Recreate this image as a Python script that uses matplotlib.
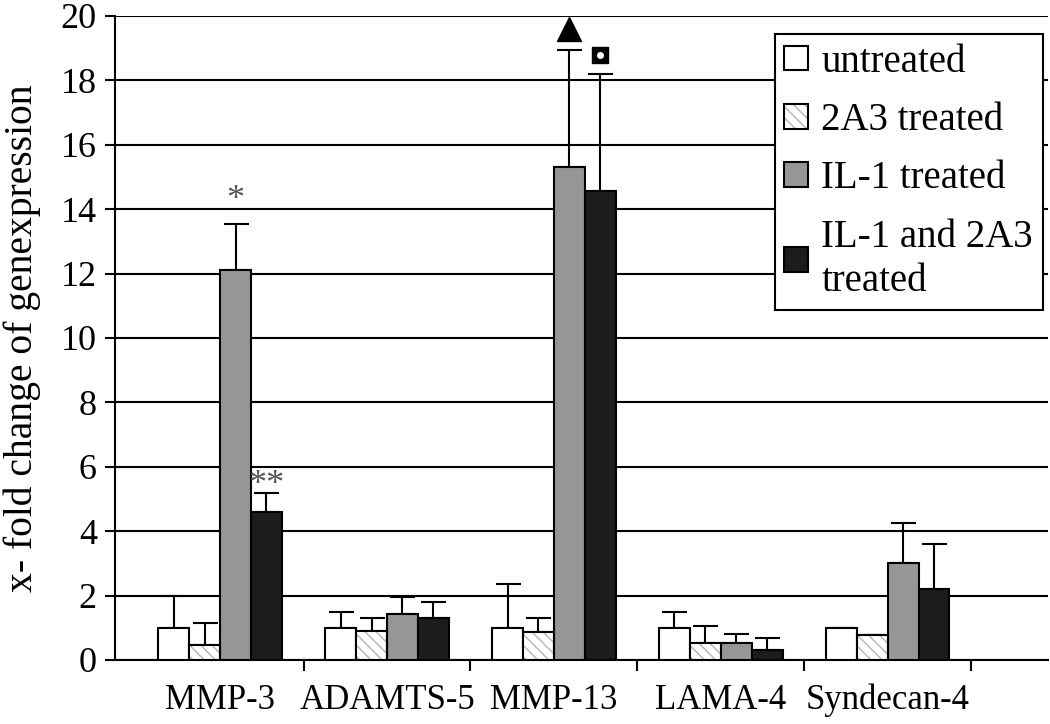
import matplotlib
matplotlib.use('Agg')
import matplotlib.pyplot as plt
import numpy as np
from matplotlib.legend_handler import HandlerTuple

# Data
genes = ['MMP-3', 'ADAMTS-5', 'MMP-13', 'LAMA-4', 'Syndecan-4']
groups = ['untreated', '2A3 treated', 'IL-1 treated', 'IL-1 and 2A3\ntreated']

untreated = [1.0, 1.0, 1.0, 1.0, 1.0]
untreated_top = [2.0, 1.5, 2.36, 1.5, 1.0]
treated_2a3 = [0.47, 0.9, 0.87, 0.53, 0.78]
treated_2a3_top = [1.15, 1.3, 1.3, 1.05, 0.78]
il1 = [12.1, 1.43, 15.3, 0.53, 3.0]
il1_top = [13.55, 1.96, 18.95, 0.8, 4.25]
il1_2a3 = [4.6, 1.3, 14.55, 0.3, 2.2]
il1_2a3_top = [5.2, 1.8, 18.2, 0.68, 3.6]

plt.rcParams['font.family'] = ['Liberation Serif', 'DejaVu Serif']
plt.rcParams['hatch.linewidth'] = 1.0

fig = plt.figure(figsize=(10.5, 7.24), dpi=100)
ax = fig.add_axes([0.1095, 0.0884, 0.8885, 0.8896])

x = np.arange(len(genes))
w = 0.185
series = [
    (untreated, untreated_top, 'white', None),
    (treated_2a3, treated_2a3_top, 'white', '\\\\\\'),
    (il1, il1_top, '#969696', None),
    (il1_2a3, il1_2a3_top, '#1c1c1c', None),
]

handles = []
for i, (vals, tops, fc, hatch) in enumerate(series):
    pos = x + (i - 1.5) * w
    vals = np.array(vals)
    err = np.array(tops) - vals
    # error bars only upward
    ax.errorbar(pos, vals, yerr=[np.zeros_like(err), err], fmt='none',
                ecolor='black', elinewidth=1.5, capsize=9, capthick=1.5, zorder=2)
    if hatch:
        # hatch in light grey, outline in black on top
        hb = ax.bar(pos, vals, w, color=fc, edgecolor='#b5b5b5', hatch=hatch,
                    linewidth=0, zorder=3)
        eb = ax.bar(pos, vals, w, color='none', edgecolor='black', linewidth=1.5, zorder=4)
        handles.append((hb, eb))
    else:
        b = ax.bar(pos, vals, w, color=fc, edgecolor='black', linewidth=1.5, zorder=3)
        handles.append(b)

# significance markers
ax.text(0 + 0.5 * w, 13.75, '*', ha='center', va='bottom', fontsize=26, color='#555555')
ax.text(0 + 1.5 * w, 4.9, '**', ha='center', va='bottom', fontsize=26, color='#555555')
ax.plot([2 + 0.5 * w], [19.6], marker='^', markersize=17, color='black', clip_on=False, zorder=5)
ax.plot([2 + 1.5 * w], [18.8], marker='s', markersize=12, color='black', zorder=5)
ax.plot([2 + 1.5 * w], [18.8], marker='o', markersize=4, color='white', zorder=6)

ax.set_ylim(0, 20)
ax.set_yticks(range(0, 21, 2))
ax.set_xlim(-0.63, 4.96)
ax.set_xticks(x)
ax.set_xticklabels(genes)
ax.set_xticks(np.arange(0.5, 5, 1), minor=True)
ax.tick_params(axis='x', which='major', length=0, pad=17, labelsize=25)
ax.tick_params(axis='x', which='minor', length=8, width=1.5, direction='out')
ax.tick_params(axis='y', length=7, width=1.5, direction='out', labelsize=26, pad=6)

ax.yaxis.grid(True, color='black', linewidth=1.5)
ax.set_axisbelow(True)
for s in ['top', 'right']:
    ax.spines[s].set_visible(False)
ax.spines['left'].set_linewidth(1.5)
ax.spines['bottom'].set_linewidth(1.5)

ax.set_ylabel('x- fold change of genexpression', fontsize=28.5, labelpad=14)

leg = ax.legend(handles, groups, loc='upper right', bbox_to_anchor=(0.9985, 0.978),
                fontsize=28, frameon=True, fancybox=False, edgecolor='black',
                handlelength=0.6, handleheight=0.6, handletextpad=0.35,
                labelspacing=0.55, borderpad=0.25, borderaxespad=0.1, framealpha=1,
                handler_map={tuple: HandlerTuple(ndivide=1, pad=0)})
leg.get_frame().set_linewidth(1.5)
leg.get_texts()[3].set_linespacing(1.25)

fig.savefig('out.png', dpi=100)
